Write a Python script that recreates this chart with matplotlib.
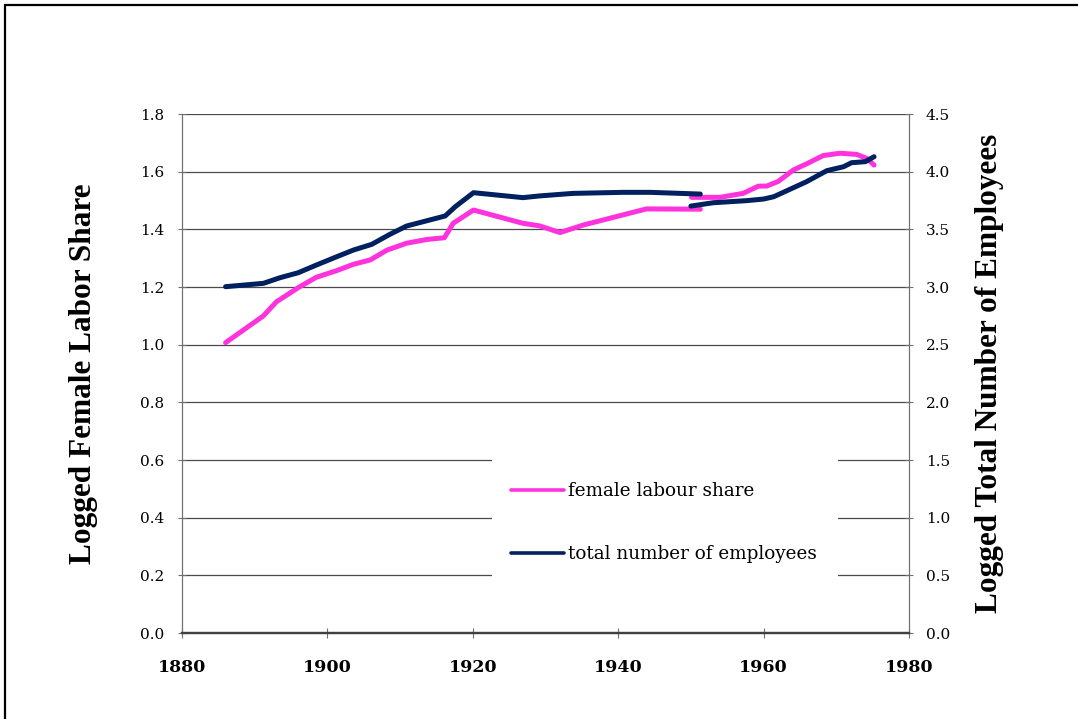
import matplotlib
matplotlib.use("Agg")
import matplotlib.pyplot as plt
from matplotlib.patches import Rectangle

# female labour share (left axis), two series pieces
fem_years_a = [1886.0, 1891.2, 1893.0, 1896.2, 1898.5, 1901.3, 1903.6, 1905.9, 1908.2,
               1910.9, 1913.7, 1916.1, 1917.3, 1920.1, 1926.9, 1929.2, 1932.0, 1935.2,
               1943.9, 1951.3]
fem_vals_a = [1.007, 1.100, 1.149, 1.201, 1.234, 1.257, 1.279, 1.294, 1.328,
              1.352, 1.365, 1.371, 1.421, 1.467, 1.421, 1.412, 1.389, 1.415,
              1.471, 1.470]
fem_years_b = [1950.1, 1954.0, 1957.2, 1959.3, 1960.4, 1962.0, 1964.1, 1965.9, 1968.2,
               1970.5, 1972.8, 1974.2, 1975.2]
fem_vals_b = [1.511, 1.511, 1.525, 1.550, 1.550, 1.566, 1.606, 1.627, 1.656,
              1.664, 1.660, 1.646, 1.623]

# total number of employees (right axis)
emp_years_a = [1886.0, 1891.2, 1893.5, 1896.0, 1898.5, 1901.3, 1903.6, 1906.1, 1908.6,
               1910.9, 1913.7, 1916.2, 1917.6, 1920.1, 1926.9, 1929.2, 1933.8, 1940.7,
               1944.4, 1951.3]
emp_vals_a = [3.003, 3.032, 3.081, 3.124, 3.191, 3.263, 3.321, 3.370, 3.457,
              3.529, 3.575, 3.616, 3.697, 3.818, 3.775, 3.790, 3.812, 3.821,
              3.821, 3.806]
emp_years_b = [1950.0, 1953.1, 1957.7, 1960.0, 1961.4, 1963.2, 1965.9, 1968.7, 1971.0,
               1972.1, 1974.0, 1975.2]
emp_vals_b = [3.702, 3.731, 3.749, 3.763, 3.783, 3.835, 3.913, 4.009, 4.043,
              4.078, 4.087, 4.130]

left_ticks = [0.0, 0.2, 0.4, 0.6, 0.8, 1.0, 1.2, 1.4, 1.6, 1.8]
right_ticks = [0.0, 0.5, 1.0, 1.5, 2.0, 2.5, 3.0, 3.5, 4.0, 4.5]
x_ticks = [1880, 1900, 1920, 1940, 1960, 1980]

pink = "#ff33dd"
navy = "#00205f"
grid_c = "#4a4a4a"

fig = plt.figure(figsize=(10.78, 7.19), dpi=100)
ax = fig.add_axes([0.1688, 0.1196, 0.6744, 0.7218])
ax2 = ax.twinx()

ax.plot(fem_years_a, fem_vals_a, color=pink, lw=3.6, solid_capstyle="round",
        label="female labour share", zorder=3)
ax.plot(fem_years_b, fem_vals_b, color=pink, lw=3.6, solid_capstyle="round", zorder=3)
ax2.plot(emp_years_a, emp_vals_a, color=navy, lw=3.6, solid_capstyle="round",
         label="total number of employees")
ax2.plot(emp_years_b, emp_vals_b, color=navy, lw=3.6, solid_capstyle="round")

ax.set_xlim(1880, 1980)
ax.set_ylim(0, 1.8)
ax2.set_ylim(0, 4.5)
ax.set_xticks(x_ticks)
ax.set_yticks(left_ticks)
ax2.set_yticks(right_ticks)
ax.set_yticklabels([f"{v:.1f}" for v in left_ticks], family="DejaVu Serif", fontsize=11)
ax2.set_yticklabels([f"{v:.1f}" for v in right_ticks], family="DejaVu Serif", fontsize=11)
ax.set_xticklabels([str(v) for v in x_ticks], family="DejaVu Serif", fontsize=12.5,
                   fontweight="bold")

for y in left_ticks[1:]:
    ax.axhline(y, color=grid_c, lw=0.9, zorder=0)

# white area behind the legend that breaks the gridlines
ax.add_patch(Rectangle((0.426, 0.083), 0.476, 0.26, transform=ax.transAxes,
                       facecolor="white", edgecolor="none", zorder=1))

for a in (ax, ax2):
    a.spines["top"].set_visible(False)
    a.spines["left"].set_color("#707070")
    a.spines["right"].set_color("#707070")
    a.spines["bottom"].set_color("#404040")
    a.spines["bottom"].set_linewidth(1.6)
ax.tick_params(axis="y", direction="inout", length=6, width=0.8, color="#707070", pad=10)
ax2.tick_params(axis="y", direction="inout", length=6, width=0.8, color="#707070", pad=9)
ax.tick_params(axis="x", direction="inout", length=7, width=0.8, color="#707070", pad=15)

ax.set_ylabel("Logged Female Labor Share", family="Liberation Serif", fontweight="bold",
              fontsize=22.5, labelpad=30)
ax2.set_ylabel("Logged Total Number of Employees", family="Liberation Serif",
               fontweight="bold", fontsize=22.5, labelpad=18)

h1, l1 = ax.get_legend_handles_labels()
h2, l2 = ax2.get_legend_handles_labels()
leg = ax2.legend(h1 + h2, l1 + l2, loc="center", bbox_to_anchor=(0.663, 0.213),
                 prop={"family": "DejaVu Serif", "size": 13.2}, frameon=False,
                 labelspacing=2.45, handlelength=2.9, handletextpad=0.2)
for line in leg.get_lines():
    line.set_linewidth(2.6)

fig.patches.append(Rectangle((0.005, -0.1), 1.2, 1.093, transform=fig.transFigure,
                             fill=False, edgecolor="black", lw=1.6))

fig.savefig("out.png", dpi=100)
